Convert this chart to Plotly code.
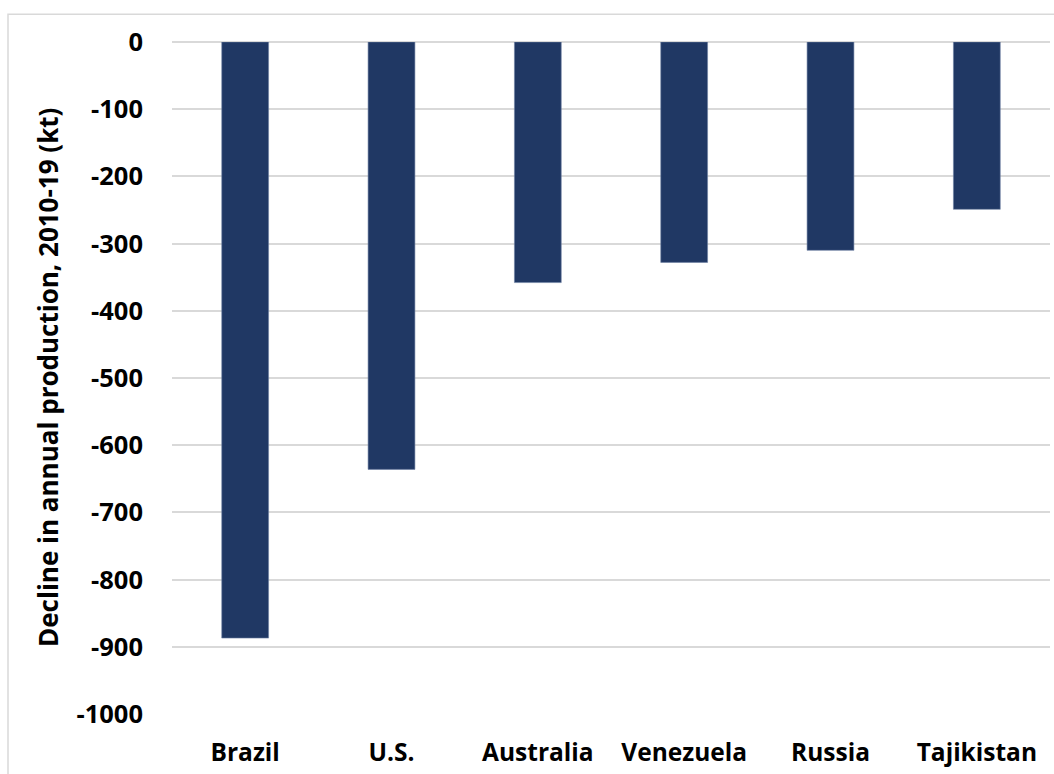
import plotly.graph_objects as go

countries = ["Brazil", "U.S.", "Australia", "Venezuela", "Russia", "Tajikistan"]
decline_kt = [-887, -636, -358, -328, -310, -249]
y_ticks = [0, -100, -200, -300, -400, -500, -600, -700, -800, -900, -1000]

FONT = "Open Sans"

fig = go.Figure()
fig.add_trace(go.Bar(
    x=countries,
    y=decline_kt,
    marker=dict(color="#203864", line=dict(color="#6d7fa3", width=0.6)),
    width=0.32,
))

fig.update_layout(
    width=1054,
    height=774,
    margin=dict(l=172, r=4, t=42, b=60),
    paper_bgcolor="white",
    plot_bgcolor="white",
    showlegend=False,
    font=dict(family=FONT, size=24, color="black"),
    shapes=[dict(
        type="rect", xref="paper", yref="paper",
        x0=(8 - 172) / 878, x1=1.2, y0=-0.2, y1=(714.3 - 14) / 672.6,
        line=dict(color="#d9d9d9", width=1.5), fillcolor="rgba(0,0,0,0)",
        layer="below",
    )],
    annotations=[dict(
        text="<b>Decline in annual production, 2010-19 (kt)</b>",
        xref="paper", yref="paper",
        x=(48 - 172) / 878, y=(714.3 - 378) / 672.6,
        xanchor="center", yanchor="middle",
        textangle=-90, showarrow=False,
        font=dict(family=FONT, size=26, color="black"),
    )],
)

fig.update_xaxes(
    showgrid=False, showline=False, zeroline=False,
    tickfont=dict(family=FONT, size=24.5, color="black", weight="bold"),
    ticklabelstandoff=21,
)
fig.update_yaxes(
    range=[-1000, 0],
    tickvals=y_ticks,
    ticktext=[str(v) for v in y_ticks],
    showgrid=True, gridcolor="#d9d9d9", gridwidth=1.5,
    zeroline=True, zerolinecolor="#d9d9d9", zerolinewidth=1.5,
    showline=False,
    tickfont=dict(family=FONT, size=25.5, color="black", weight="bold"),
    ticklabelstandoff=28,
)

fig.write_html("out.html")
